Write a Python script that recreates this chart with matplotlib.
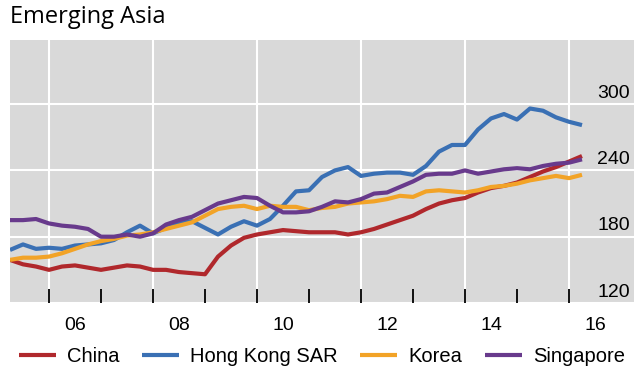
import matplotlib
matplotlib.use("Agg")
import matplotlib.pyplot as plt
import matplotlib.transforms as mtransforms
import numpy as np

# quarterly index, 2005Q2 to 2016Q2
START_YEAR = 2005.25
china = [159, 155, 153, 150, 153, 154, 152, 150, 152, 154, 153, 150, 150, 148, 147, 146,
         162, 172, 179, 182, 184, 186, 185, 184, 184, 184, 182, 184, 187, 191, 195, 199,
         205, 210, 213, 215, 220, 224, 226, 229, 234, 239, 243, 248, 253]
hong_kong = [168, 173, 169, 170, 169, 172, 173, 174, 177, 184, 190, 183, 188, 193, 194, 188,
             182, 189, 194, 190, 196, 208, 221, 222, 234, 240, 243, 235, 237, 238, 238, 236,
             244, 257, 263, 263, 277, 287, 291, 286, 296, 294, 288, 284, 281]
korea = [159, 161, 161, 162, 165, 169, 173, 176, 178, 181, 182, 184, 187, 190, 193, 199,
         205, 207, 208, 205, 208, 207, 207, 204, 206, 207, 210, 211, 212, 214, 217, 216,
         221, 222, 221, 220, 222, 225, 226, 228, 231, 233, 235, 233, 236]
singapore = [195, 195, 196, 192, 190, 189, 187, 180, 180, 182, 180, 183, 191, 195, 198, 204,
             210, 213, 216, 215, 208, 202, 202, 203, 207, 212, 211, 214, 219, 220, 225, 230,
             236, 237, 237, 240, 237, 239, 241, 242, 241, 244, 246, 247, 250]

series_names = ["China", "Hong Kong SAR", "Korea", "Singapore"]
series_colors = ["#b0282c", "#3a70b4", "#f2a327", "#683a8c"]
y_ticks = [120, 180, 240, 300]
year_ticks = list(range(2006, 2017))
label_years = list(range(2006, 2017, 2))

plt.rcParams["font.family"] = ["Liberation Sans", "DejaVu Sans"]

dates = START_YEAR + 0.25 * np.arange(len(china))

fig = plt.figure(figsize=(6.4, 3.75), dpi=100)
ax = fig.add_axes([10 / 640, 72 / 375, 624 / 640, 263 / 375])
ax.set_facecolor("#d9d9d9")
for sp in ax.spines.values():
    sp.set_visible(False)

for yr in label_years:
    ax.axvline(yr, color="white", lw=1.5, zorder=1)
for yv in y_ticks:
    ax.axhline(yv, color="white", lw=1.5, zorder=1)

for name, vals, col in zip(series_names, [china, hong_kong, korea, singapore], series_colors):
    ax.plot(dates, vals, color=col, lw=3, label=name, zorder=3, solid_capstyle="butt")

ax.set_xlim(2005.25, 2017.25)
ax.set_ylim(120, 358)

ax.set_xticks(year_ticks)
ax.set_xticklabels([])
ax.tick_params(axis="x", which="major", direction="in", length=10, width=1.3, color="black")
ax.set_xticks([y + 0.5 for y in label_years], minor=True)
ax.set_xticklabels([str(y)[2:] for y in label_years], minor=True, fontsize=14)
ax.tick_params(axis="x", which="minor", length=0, pad=10)
ax.set_yticks([])

trans = mtransforms.blended_transform_factory(ax.transAxes, ax.transData)
for yv in y_ticks:
    ax.text(0.993, yv + 2, str(yv), transform=trans, ha="right", va="bottom",
            fontsize=14, zorder=4)

fig.text(10 / 640, 1 - 17 / 375, "Emerging Asia", fontsize=17, va="center", ha="left",
         family=["Open Sans", "DejaVu Sans"])

ax.legend(loc="lower center", bbox_to_anchor=(0.5, -0.24), ncol=4, frameon=False,
          fontsize=14.5, handlelength=1.85, columnspacing=1.1, handletextpad=0.55,
          borderaxespad=0, borderpad=0)

fig.savefig("out.png", dpi=100)
